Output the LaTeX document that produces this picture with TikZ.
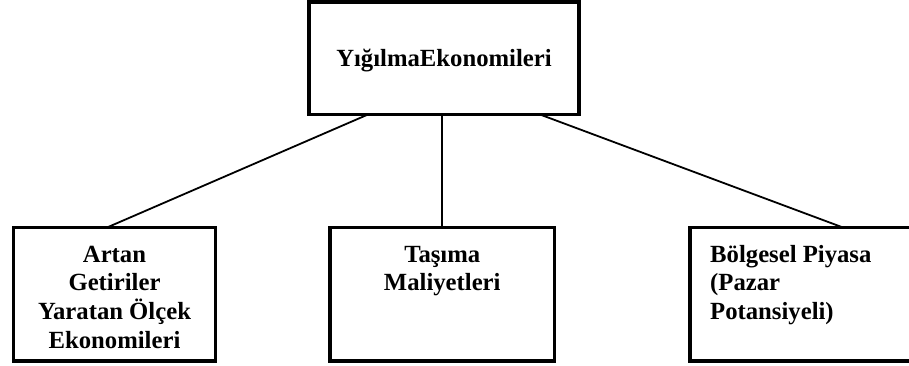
\documentclass[tikz,border=0pt]{standalone}
\usepackage{fontspec}
\setmainfont{Liberation Serif}
\newfontfamily\boxfont{Liberation Serif}
\usetikzlibrary{calc}
\begin{document}
\begin{tikzpicture}[x=1pt,y=-1pt,
  box/.style={draw,line width=3.6pt,inner sep=0pt,outer sep=0pt,anchor=north west},
  link/.style={line width=1.8pt},
  label/.style={font=\boxfont\bfseries\fontsize{24.7}{28.7}\selectfont,inner sep=0pt}]
\useasboundingbox (0,0) rectangle (909,366);
\clip (0,0) rectangle (909,366);

% boxes
\node[box,minimum width=270pt,minimum height=112.5pt] (top) at (309,2) {};
\node[box,minimum width=202pt,minimum height=133.5pt] (left) at (13.5,227.5) {};
\node[box,minimum width=224.5pt,minimum height=133.5pt] (mid) at (330,227.5) {};
\node[box,minimum width=310pt,minimum height=133.5pt] (right) at (690,227.5) {};

% texts
\node[label,anchor=base] (toptext) at ($(top.north)+(0,64.5)$) {YığılmaEkonomileri};
\node[label,anchor=north,align=center] (lefttext) at ($(left.north)+(0,14.4)$)
  {\strut Artan\\Getiriler\\Yaratan Ölçek\\Ekonomileri};
\node[label,anchor=north,align=center] (midtext) at ($(mid.north)+(0,14.4)$)
  {\strut Taşıma\\Maliyetleri};
\node[label,anchor=north west,align=left] (righttext) at ($(right.north west)+(20,14.4)$)
  {\strut Bölgesel Piyasa\\(Pazar\\Potansiyeli)};

% connectors
\draw[link] ($(top.south)+(-76,0)$) -- ($(left.north)+(-7.5,0)$);
\draw[link] (mid.north |- top.south) -- (mid.north);
\draw[link] ($(top.south)+(96,0)$) -- ($(right.north west)+(153,0)$);
\end{tikzpicture}
\end{document}
